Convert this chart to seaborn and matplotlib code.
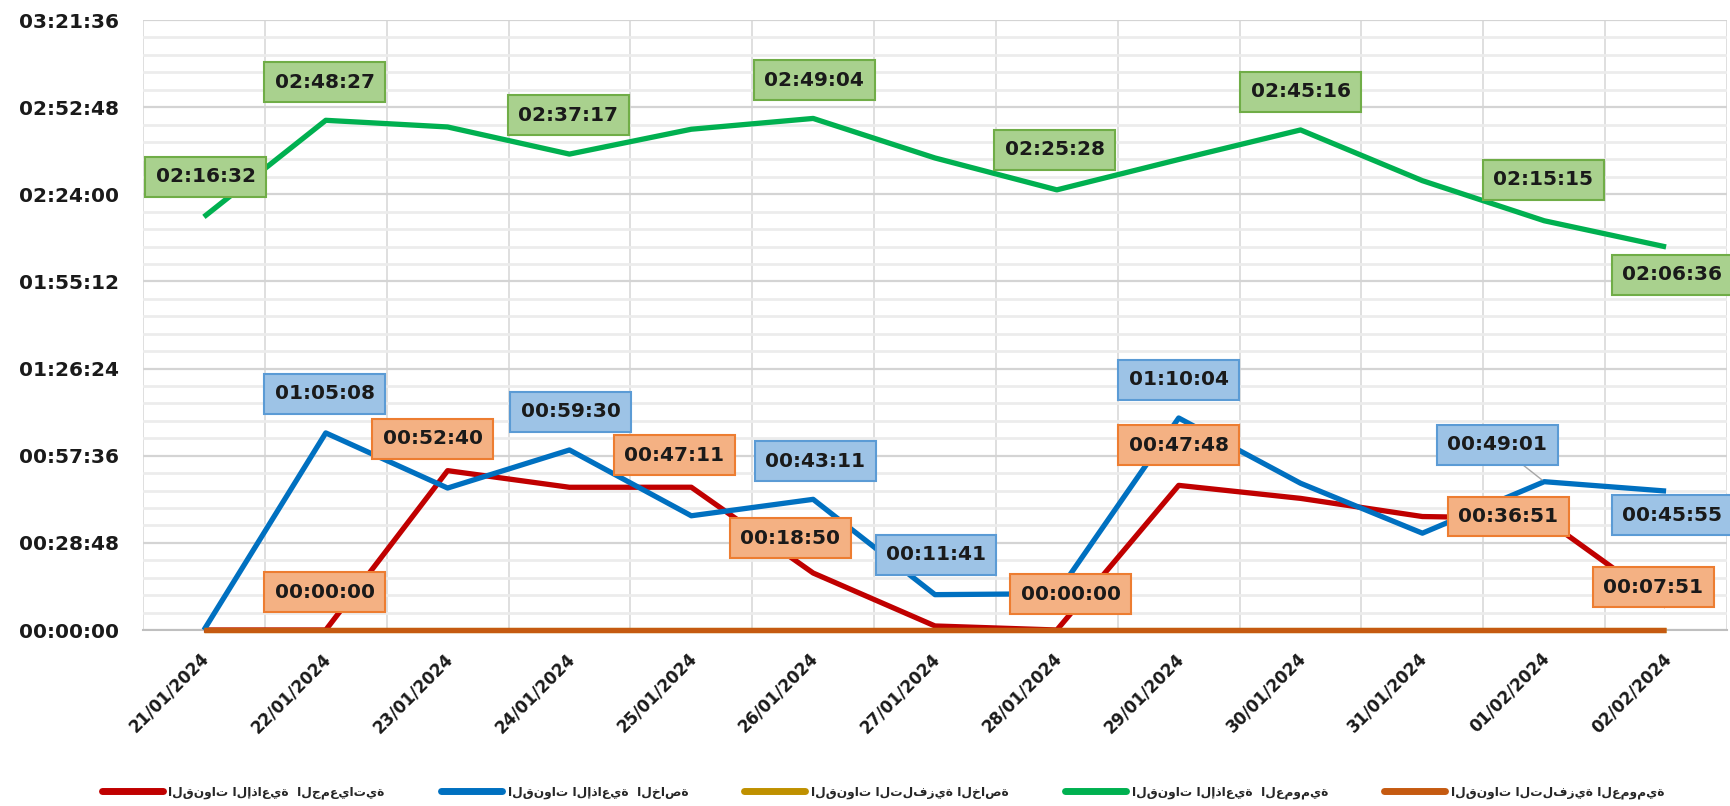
import matplotlib
matplotlib.use("Agg")
import matplotlib.pyplot as plt
from matplotlib.lines import Line2D
from matplotlib.ticker import MultipleLocator, FuncFormatter, FixedLocator
import matplotlib.transforms as mtransforms
import numpy as np
import pandas as pd
import seaborn as sns

# ---------------- data ----------------
dates = ['21/01/2024', '22/01/2024', '23/01/2024', '24/01/2024', '25/01/2024',
         '26/01/2024', '27/01/2024', '28/01/2024', '29/01/2024', '30/01/2024',
         '31/01/2024', '01/02/2024', '02/02/2024']

name_assoc = 'القنوات الإذاعية  الجمعياتية'
name_radio_priv = 'القنوات الإذاعية  الخاصة'
name_tv_priv = 'القنوات التلفزية الخاصة'
name_radio_pub = 'القنوات الإذاعية  العمومية'
name_tv_pub = 'القنوات التلفزية العمومية'

radio_assoc = ['00:00:00', '00:00:00', '00:52:40', '00:47:10', '00:47:11', '00:18:50',
               '00:01:20', '00:00:00', '00:47:48', '00:43:30', '00:37:30', '00:36:51',
               '00:07:51']
radio_private = ['00:00:00', '01:05:08', '00:46:55', '00:59:30', '00:37:45', '00:43:11',
                 '00:11:41', '00:12:00', '01:10:04', '00:48:30', '00:32:00', '00:49:01',
                 '00:45:55']
tv_private = ['00:00:00'] * 13
radio_public = ['02:16:32', '02:48:27', '02:46:15', '02:37:17', '02:45:30', '02:49:04',
                '02:36:00', '02:25:28', '02:35:30', '02:45:16', '02:28:30', '02:15:15',
                '02:06:36']
tv_public = ['00:00:00'] * 13

# indices of points carrying a data label
labels_assoc = [1, 2, 4, 5, 7, 8, 11, 12]
labels_radio_priv = [1, 3, 5, 6, 8, 11, 12]
labels_radio_pub = [0, 1, 3, 5, 7, 9, 11, 12]

# ---------------- styling ----------------
col_assoc = '#c00000'
col_radio_priv = '#0070c0'
col_tv_priv = '#bf9000'
col_radio_pub = '#00b050'
col_tv_pub = '#c55a11'


def to_sec(s):
    h, m, x = (int(v) for v in s.split(':'))
    return h * 3600 + m * 60 + x


def fmt(v, pos=None):
    v = int(round(v))
    return '%02d:%02d:%02d' % (v // 3600, (v % 3600) // 60, v % 60)


rows = []
for name, vals in [(name_assoc, radio_assoc), (name_radio_priv, radio_private),
                   (name_tv_priv, tv_private), (name_radio_pub, radio_public),
                   (name_tv_pub, tv_public)]:
    for i, v in enumerate(vals):
        rows.append({'idx': i, 'date': dates[i], 'series': name, 'sec': to_sec(v)})
df = pd.DataFrame(rows)

order = [name_assoc, name_radio_priv, name_tv_priv, name_radio_pub, name_tv_pub]
palette = {name_assoc: col_assoc, name_radio_priv: col_radio_priv,
           name_tv_priv: col_tv_priv, name_radio_pub: col_radio_pub,
           name_tv_pub: col_tv_pub}

sns.set_theme(style='white')
plt.rcParams['font.family'] = ['DejaVu Sans']

W, H = 1731, 806
fig = plt.figure(figsize=(W / 100, H / 100), dpi=100)
ax = fig.add_axes([143 / W, 176 / H, (1727 - 143) / W, 610 / H])

sns.lineplot(data=df, x='idx', y='sec', hue='series', hue_order=order,
             palette=palette, linewidth=3.8, sort=False, legend=False, ax=ax,
             solid_capstyle='butt')
for ln in ax.get_lines():
    ln.set_clip_on(False)
    ln.set_zorder(3)

ax.set_xlim(-0.5, 12.5)
ax.set_ylim(0, 12096)

# grid
ax.yaxis.set_minor_locator(MultipleLocator(345.6))
ax.xaxis.set_minor_locator(FixedLocator([i - 0.5 for i in range(14)]))
ax.grid(which='major', axis='y', color='#d4d4d4', lw=1.6)
ax.grid(which='minor', axis='y', color='#ececec', lw=2.0)
ax.grid(which='minor', axis='x', color='#d9d9d9', lw=1.2)
ax.grid(which='major', axis='x', visible=False)
ax.set_axisbelow(True)
for s in ['top', 'right', 'left']:
    ax.spines[s].set_visible(False)
ax.spines['bottom'].set_color('#bfbfbf')
ax.spines['bottom'].set_linewidth(1.5)
ax.spines['bottom'].set_zorder(2)

ax.tick_params(axis='y', which='both', length=0, pad=17)
ax.tick_params(axis='x', which='major', length=0, pad=14)
ax.tick_params(axis='x', which='minor', length=7, width=1.2, color='#bfbfbf',
               direction='out')
ax.set_xticks(range(13))
ax.set_xticklabels(dates, rotation=45, ha='right', rotation_mode='anchor',
                   fontsize=12, fontweight='bold', color='#1a1a1a')
shift = mtransforms.ScaledTranslation(-4 / 100, 0, fig.dpi_scale_trans)
for t in ax.get_xticklabels():
    t.set_transform(t.get_transform() + shift)
yt = np.arange(0, 12096 + 1, 1728)
ax.set_yticks(yt)
ax.set_yticklabels([fmt(v) for v in yt], fontsize=14.5, fontweight='bold',
                   color='#1a1a1a')
ax.set_xlabel('')
ax.set_ylabel('')

# data labels
label_style = {
    name_radio_pub: ('#a9d18e', '#70ad47'),
    name_radio_priv: ('#9dc3e6', '#5b9bd5'),
    name_assoc: ('#f4b183', '#ed7d31'),
}
offsets = {
    name_radio_pub: {0: (2, 40), 1: (-1, 38), 3: (-1, 39), 5: (1, 38), 7: (-2, 40),
                     9: (0, 38), 11: (-1, 41), 12: (6, -28)},
    name_radio_priv: {1: (-1, 39), 3: (1, 38), 5: (2, 38), 6: (1, 40), 8: (0, 38),
                      11: (-47, 37), 12: (6, -24)},
    name_assoc: {1: (-1, 38), 2: (-15, 32), 4: (-17, 32), 5: (-23, 35), 7: (14, 36),
                 8: (0, 40), 11: (-36, 2), 12: (-13, 19)},
}
for name, vals, idxs in [(name_radio_pub, radio_public, labels_radio_pub),
                         (name_radio_priv, radio_private, labels_radio_priv),
                         (name_assoc, radio_assoc, labels_assoc)]:
    fc, ec = label_style[name]
    for i in idxs:
        dx, dy = offsets[name][i]
        kw = {}
        if name == name_radio_priv and i == 11:
            kw['arrowprops'] = dict(arrowstyle='-', color='#a6a6a6', lw=1.0,
                                    shrinkA=0, shrinkB=2)
        ax.annotate(fmt(to_sec(vals[i])), xy=(i, to_sec(vals[i])),
                    xytext=(dx, dy), textcoords='offset pixels',
                    ha='center', va='center', fontsize=14.5, fontweight='bold',
                    color='#1a1a1a',
                    bbox=dict(boxstyle='square,pad=0.52', fc=fc, ec=ec, lw=1.5),
                    zorder=5, annotation_clip=False, **kw)

# legend
handles = [Line2D([0], [0], color=palette[n], lw=5.0, solid_capstyle='round')
           for n in order]
fig.legend(handles, order, loc='center', bbox_to_anchor=(883 / W, 1 - 792 / H),
           ncol=5, frameon=False, handlelength=5.0,
           handletextpad=0.45, columnspacing=4.6,
           prop={'weight': 'bold', 'size': 8.8})

fig.savefig('out.png', dpi=100, facecolor='white')
